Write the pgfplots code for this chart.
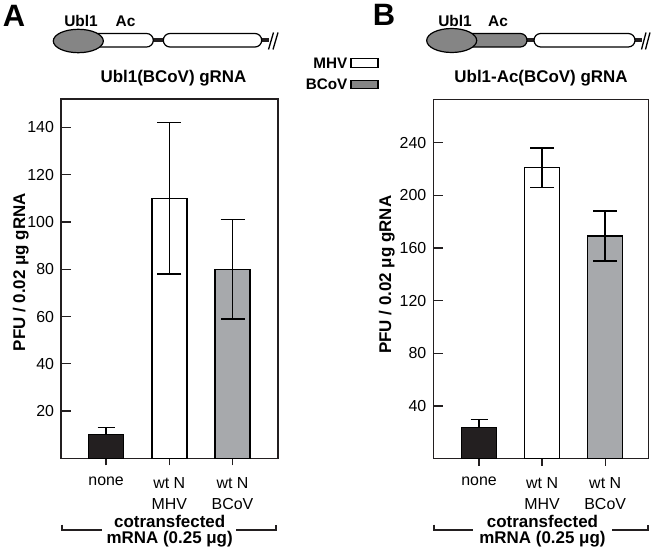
\documentclass[border=0pt]{standalone}
\usepackage{pgfplots}
\pgfplotsset{compat=1.18}
\usepackage{fontspec}
\setmainfont{Liberation Sans}
\definecolor{barblack}{HTML}{231F20}
\definecolor{bargray}{HTML}{A7A9AC}
\definecolor{schem}{HTML}{858585}

\pgfplotsset{
  panel/.style={
    scale only axis,
    axis line style={line width=1.4bp, barblack},
    ymin=0,
    xtick={0,1,2},
    xticklabels={none,{wt N\\MHV},{wt N\\BCoV}},
    xticklabel style={align=center, font=\fontsize{16}{21}\selectfont, yshift=-11bp},
    yticklabel style={font=\fontsize{16}{19}\selectfont, xshift=-3.5bp},
    yticklabel={\pgfmathprintnumber[assume math mode=true]{\tick}},
    xtick pos=bottom, ytick pos=left,
    xtick align=outside, ytick align=inside,
    xtick style={line width=1.3bp, barblack, /pgfplots/major tick length=7bp},
    ytick style={line width=1.3bp, barblack, /pgfplots/major tick length=10bp},
    ylabel={PFU / 0.02 μg gRNA},
    title style={font=\bfseries\fontsize{17}{20}\selectfont, anchor=base, at={(axis description cs:0.5,1)}, yshift=10.5bp},
  },
  onebar/.style={ybar, bar width=35bp, bar shift=0bp, draw=black, line width=1.4bp, fill=#1},
  eb/.style 2 args={error bars/.cd, y dir=#2, y explicit,
    error bar style={line width=1.5bp, black},
    error mark options={rotate=90, mark size=#1, line width=1.5bp, black}},
}

\begin{document}
\begin{tikzpicture}
\useasboundingbox (0,0) rectangle (651bp,-551bp);

% ---------------- Panel A ----------------
\begin{axis}[panel,
  at={(61bp,-458.4bp)}, anchor=south west,
  width=217bp, height=359.4bp,
  xmin=-0.714, xmax=2.72, ymax=152,
  ytick={20,40,60,80,100,120,140},
  title={Ubl1(BCoV) gRNA},
  title style={xshift=4bp},
  ylabel style={at={(axis description cs:-0.185,0.518)}, anchor=center, font=\bfseries\fontsize{17}{20}\selectfont},
]
\addplot[onebar=barblack, eb={8.5bp}{plus}] coordinates {(0,10) +- (0,3)};
\addplot[onebar=white, eb={12bp}{both}] coordinates {(1,110) +- (0,32)};
\addplot[onebar=bargray, eb={12bp}{both}] coordinates {(2,80) +- (0,21)};
\end{axis}

% ---------------- Panel B ----------------
\begin{axis}[panel,
  at={(433.3bp,-458.5bp)}, anchor=south west,
  width=215.4bp, height=359.2bp,
  xmin=-0.725, xmax=2.69, ymax=273,
  ytick={40,80,120,160,200,240},
  title={Ubl1-Ac(BCoV) gRNA},
  ylabel style={at={(axis description cs:-0.216,0.512)}, anchor=center, font=\bfseries\fontsize{17}{20}\selectfont},
]
\addplot[onebar=barblack, eb={8.5bp}{plus}] coordinates {(0,23.5) +- (0,6)};
\addplot[onebar=white, eb={12bp}{both}] coordinates {(1,221) +- (0,15)};
\addplot[onebar=bargray, eb={12bp}{both}] coordinates {(2,169) +- (0,19)};
\end{axis}

\begin{scope}[x=1bp, y=-1bp]
% panel letters
\node[font=\bfseries\fontsize{31}{31}\selectfont, anchor=base] at (14,26) {A};
\node[font=\bfseries\fontsize{31}{31}\selectfont, anchor=base] at (384,25.5) {B};

% schematic A
\node[font=\bfseries\fontsize{15.5}{16}\selectfont, anchor=base] at (81,26.5) {Ubl1};
\node[font=\bfseries\fontsize{15.5}{16}\selectfont, anchor=base] at (125.5,26.5) {Ac};
\fill[barblack] (152,38.3) rectangle (164.5,42.3);
\fill[barblack] (261,38.3) rectangle (268.5,42.3);
\draw[line width=1.2bp, fill=white, rounded corners=6.7bp] (72,33.5) rectangle (153.3,47);
\draw[line width=1.2bp, fill=white, rounded corners=6.7bp] (163.3,33.5) rectangle (261.7,47);
\draw[line width=1.2bp, fill=schem] (78.3,41) ellipse (25bp and 11.7bp);
\draw[line width=1.3bp] (268.5,49.5) -- (273.5,32.5) (273,49.5) -- (278,32.5);

% schematic B
\node[font=\bfseries\fontsize{15.5}{16}\selectfont, anchor=base] at (455,26.5) {Ubl1};
\node[font=\bfseries\fontsize{15.5}{16}\selectfont, anchor=base] at (498,26.5) {Ac};
\fill[barblack] (526,38.3) rectangle (535,42.3);
\fill[barblack] (634,38.3) rectangle (642,42.3);
\draw[line width=1.2bp, fill=schem, rounded corners=6.7bp] (445,33.5) rectangle (527,47);
\draw[line width=1.2bp, fill=white, rounded corners=6.7bp] (534,33.5) rectangle (635,47);
\draw[line width=1.2bp, fill=schem] (451.7,40.5) ellipse (25bp and 12bp);
\draw[line width=1.3bp] (641.5,49.5) -- (646,32.5) (645.5,49.5) -- (650,32.5);

% legend
\node[font=\bfseries\fontsize{15.3}{16}\selectfont, anchor=base east, inner sep=0pt] at (347.5,68) {MHV};
\draw[line width=1.2bp, fill=white] (351,58.5) rectangle (378,67.3);
\node[font=\bfseries\fontsize{15.3}{16}\selectfont, anchor=base east, inner sep=0pt] at (347.5,89.5) {BCoV};
\draw[line width=1.2bp, fill=schem] (351,80.5) rectangle (378,88.5);

% brackets
\draw[line width=1.3bp, barblack] (62,524.5) -- (62,530) -- (102,530) (236,530) -- (276,530) -- (276,524.5);
\node[font=\bfseries\fontsize{17}{17}\selectfont, anchor=base] at (169.7,527.3) {cotransfected};
\node[font=\bfseries\fontsize{17}{17}\selectfont, anchor=base] at (169.7,543.5) {mRNA (0.25 μg)};
\draw[line width=1.3bp, barblack] (434,524.5) -- (434,530) -- (473,530) (612,530) -- (648,530) -- (648,524.5);
\node[font=\bfseries\fontsize{17}{17}\selectfont, anchor=base] at (542.5,527.3) {cotransfected};
\node[font=\bfseries\fontsize{17}{17}\selectfont, anchor=base] at (542.5,543.5) {mRNA (0.25 μg)};
\end{scope}
\end{tikzpicture}
\end{document}
